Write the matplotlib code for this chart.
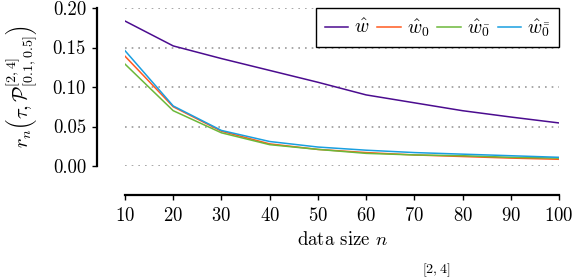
import matplotlib
matplotlib.use("Agg")
import matplotlib.pyplot as plt

plt.rcParams["font.family"] = "serif"
plt.rcParams["font.serif"] = ["cmr10", "DejaVu Serif"]
plt.rcParams["mathtext.fontset"] = "cm"
plt.rcParams["axes.formatter.use_mathtext"] = True

N = [10, 20, 30, 40, 50, 60, 70, 80, 90, 100]
W_HAT = [0.1835, 0.152, 0.136, 0.121, 0.106, 0.090, 0.080, 0.070, 0.062, 0.0545]
W_0 = [0.139, 0.075, 0.044, 0.028, 0.021, 0.017, 0.014, 0.012, 0.010, 0.0085]
W_0BAR = [0.129, 0.070, 0.042, 0.027, 0.021, 0.016, 0.014, 0.013, 0.011, 0.010]
W_0BB = [0.146, 0.076, 0.045, 0.031, 0.024, 0.020, 0.017, 0.015, 0.013, 0.011]
LABELS = [r"$\hat{w}$", r"$\hat{w}_0$", r"$\hat{w}_{\bar{0}}$", r"$\hat{w}_{\bar{\bar{0}}}$"]
COLORS = ["#4b0c8f", "#ff5a1f", "#6cb83a", "#1a9fe0"]


def main() -> None:
    fig = plt.figure(figsize=(5.74, 2.8), dpi=100)
    ax = fig.add_axes([125 / 574, 1 - 166 / 280, 434 / 574, 158 / 280])

    for ys, label, color in zip([W_HAT, W_0, W_0BAR, W_0BB], LABELS, COLORS):
        ax.plot(N, ys, color=color, linewidth=1.1, label=label)

    ax.set_xlim(10, 100)
    ax.set_ylim(0, 0.2)
    ax.set_xticks(N)
    ax.set_yticks([0.0, 0.05, 0.10, 0.15, 0.20])
    ax.set_yticklabels(["0.00", "0.05", "0.10", "0.15", "0.20"])
    ax.yaxis.grid(True, linestyle=(0, (1, 3)), color="#999999", linewidth=1.2)
    ax.set_axisbelow(True)

    for side in ["top", "right"]:
        ax.spines[side].set_visible(False)
    ax.spines["left"].set_position(("outward", 20))
    ax.spines["bottom"].set_position(("outward", 21))
    for side in ["left", "bottom"]:
        ax.spines[side].set_linewidth(1.6)
    ax.tick_params(axis="both", labelsize=13.5, width=1.0, length=3.5)
    ax.tick_params(axis="y", pad=4.5)
    ax.tick_params(axis="x", pad=5)

    ax.set_xlabel(r"data size $n$", fontsize=13.5, labelpad=4)
    ax.set_ylabel(r"$r_n\left(\tau, \mathcal{P}_{[0.1,0.5]}^{[2,4]}\right)$", fontsize=14.5, labelpad=9)

    leg = ax.legend(loc="upper right", ncol=4, fontsize=14, frameon=True, fancybox=False,
                    handlelength=1.2, handletextpad=0.3, columnspacing=0.4,
                    borderaxespad=0.0, borderpad=0.45)
    leg.get_frame().set_edgecolor("black")
    leg.get_frame().set_linewidth(1.0)
    leg.get_frame().set_alpha(1.0)

    # top of the caption line below the figure
    fig.text(436 / 574, 1 - 279 / 280, r"$[2,4]$", fontsize=10, ha="center", va="bottom")

    fig.savefig("out.png", dpi=100)
    plt.close(fig)


if __name__ == "__main__":
    main()
